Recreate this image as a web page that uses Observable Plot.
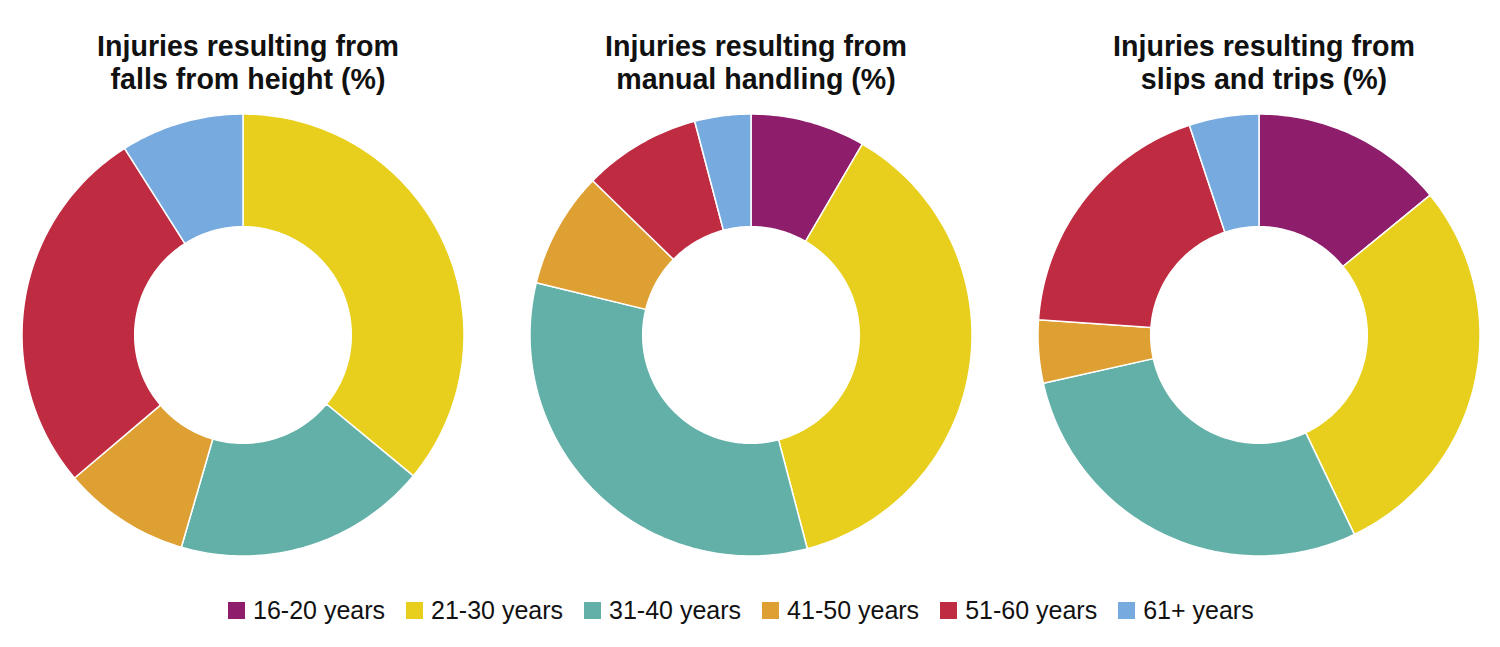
<!DOCTYPE html>
<html>
<head>
<meta charset="utf-8">
<script src="https://cdn.jsdelivr.net/npm/d3@7"></script>
<script src="https://cdn.jsdelivr.net/npm/@observablehq/plot@0.6"></script>
<style>
  html, body { margin: 0; padding: 0; background: #fff; }
  #root { position: relative; width: 1500px; height: 647px; overflow: hidden; font-family: "Liberation Sans", Arial, sans-serif; }
  .title { position: absolute; top: 30px; width: 500px; text-align: center; font-weight: bold; font-size: 28.6px; line-height: 33px; color: #111; }
  .chart { position: absolute; top: 110px; width: 450px; height: 450px; }
  #legend { position: absolute; left: 228px; top: 595px; height: 30px; display: flex; align-items: center; gap: 21px; font-size: 25px; color: #111; }
  .item { display: flex; align-items: center; }
  .sw { width: 17px; height: 17px; margin-right: 8px; }
</style>
</head>
<body>
<div id="root"></div>
<script>
// ---- data ----
const ages = ["16-20 years", "21-30 years", "31-40 years", "41-50 years", "51-60 years", "61+ years"];
const ageColors = ["#8E1D6B", "#E8CF1E", "#63B0A8", "#DEA032", "#BF2B40", "#77ABDF"];
const titles = [
  ["Injuries resulting from", "falls from height (%)"],
  ["Injuries resulting from", "manual handling (%)"],
  ["Injuries resulting from", "slips and trips (%)"]
];
const fallsFromHeight = [0, 36, 18.5, 9.3, 27.2, 9];
const manualHandling = [8.4, 37.5, 32.9, 8.5, 8.6, 4.1];
const slipsAndTrips = [14.1, 28.8, 28.6, 4.6, 18.8, 5.1];
const series = [fallsFromHeight, manualHandling, slipsAndTrips];
const innerRatio = 0.49;

const root = document.getElementById("root");
const centers = [243, 751, 1259];

// Build annular-sector outlines from the values (angle clockwise from 12 o'clock)
function sectors(values) {
  const total = d3.sum(values);
  const pts = [];
  let cum = 0;
  values.forEach((v, i) => {
    if (v <= 0) { return; }
    const a0 = cum / total * 2 * Math.PI;
    cum += v;
    const a1 = cum / total * 2 * Math.PI;
    const n = Math.max(2, Math.ceil((a1 - a0) / (2 * Math.PI) * 360));
    for (let k = 0; k <= n; k++) {
      const a = a0 + (a1 - a0) * k / n;
      pts.push({
        age: ages[i],
        ox: Math.sin(a), oy: Math.cos(a),
        ix: innerRatio * Math.sin(a), iy: innerRatio * Math.cos(a)
      });
    }
  });
  return pts;
}

series.forEach((values, j) => {
  const t = document.createElement("div");
  t.className = "title";
  t.style.left = (centers[j] + 5 - 250) + "px";
  t.innerHTML = titles[j].join("<br>");
  root.appendChild(t);

  const chart = Plot.plot({
    width: 450,
    height: 450,
    margin: 4,
    style: { background: "transparent" },
    x: { domain: [-1, 1], axis: null },
    y: { domain: [-1, 1], axis: null },
    color: { domain: ages, range: ageColors },
    marks: [
      Plot.area(sectors(values), {
        x1: "ox", y1: "oy", x2: "ix", y2: "iy",
        z: "age", fill: "age",
        stroke: "white", strokeWidth: 1.5, strokeLinejoin: "round"
      })
    ]
  });
  const d = document.createElement("div");
  d.className = "chart";
  d.style.left = (centers[j] - 225) + "px";
  d.appendChild(chart);
  root.appendChild(d);
});

// legend
const lg = document.createElement("div");
lg.id = "legend";
ages.forEach((a, i) => {
  const it = document.createElement("div");
  it.className = "item";
  const sw = document.createElement("div");
  sw.className = "sw";
  sw.style.background = ageColors[i];
  const tx = document.createElement("span");
  tx.textContent = a;
  it.appendChild(sw);
  it.appendChild(tx);
  lg.appendChild(it);
});
root.appendChild(lg);
</script>
</body>
</html>
